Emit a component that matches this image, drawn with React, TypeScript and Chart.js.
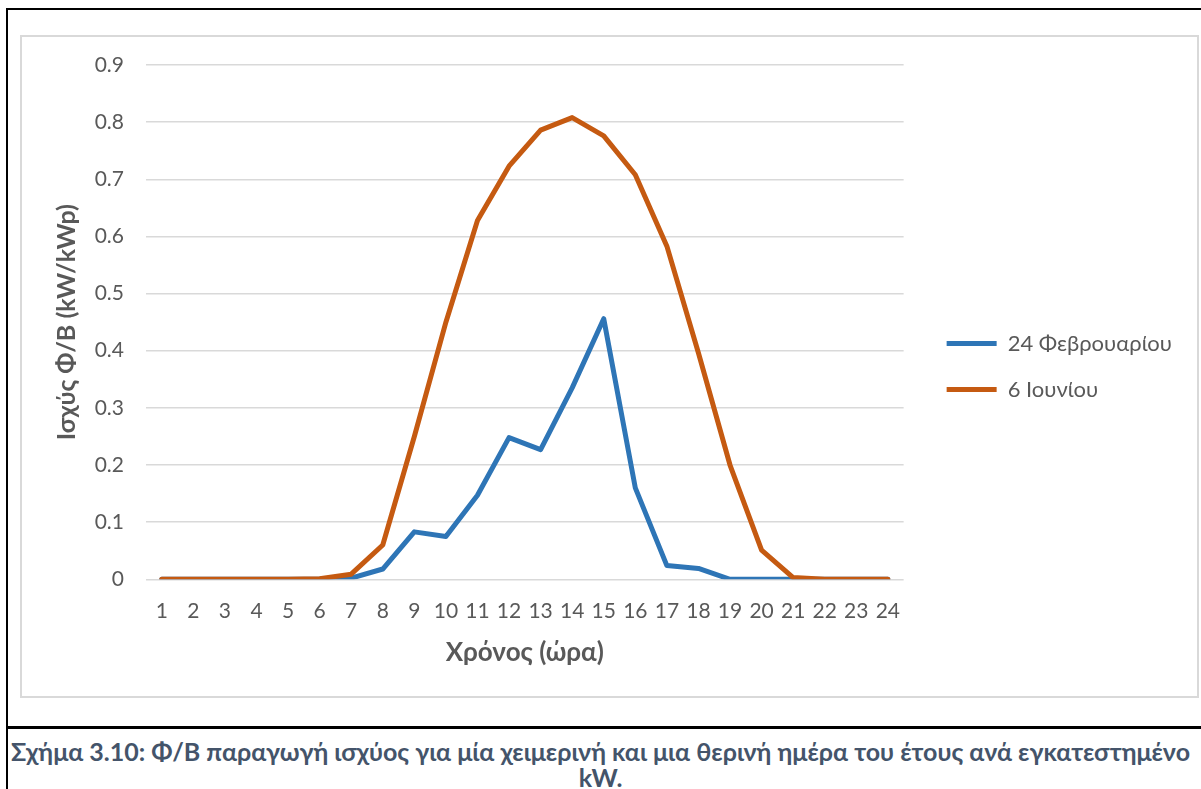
import React, { useEffect, useRef } from 'react';
import { Chart, registerables } from 'chart.js';

Chart.register(...registerables);

const hours = ['1', '2', '3', '4', '5', '6', '7', '8', '9', '10', '11', '12', '13', '14', '15', '16', '17', '18', '19', '20', '21', '22', '23', '24'];
const seriesNames = ['24 Φεβρουαρίου', '6 Ιουνίου'];
const feb24 = [0, 0, 0, 0, 0, 0, 0.002, 0.018, 0.083, 0.075, 0.147, 0.248, 0.227, 0.335, 0.456, 0.16, 0.024, 0.019, 0, 0, 0, 0, 0, 0];
const jun6 = [0, 0, 0, 0, 0, 0.001, 0.009, 0.06, 0.25, 0.45, 0.628, 0.723, 0.786, 0.808, 0.776, 0.708, 0.583, 0.396, 0.2, 0.051, 0.003, 0, 0, 0];
const yMin = 0;
const yMax = 0.9;
const yStep = 0.1;
const xTitle = 'Χρόνος (ώρα)';
const yTitle = 'Ισχύς Φ/Β (kW/kWp)';
const caption = 'Σχήμα 3.10: Φ/Β παραγωγή ισχύος για μία χειμερινή και μια θερινή ημέρα του έτους ανά εγκατεστημένο';
const captionEnd = 'kW.';

const TEXT = '#595959';
const FONT = 'Lato, "Open Sans", sans-serif';
const CANVAS_W = 1175;
const CANVAS_H = 659;
const LEGEND_SIZE = 22;
const LEGEND_PAD = 24;
const LEGEND_BOX = 50;
const SPACER = 19;
const PAD_RIGHT = 15;

export default function App() {
  const ref = useRef<HTMLCanvasElement>(null);

  useEffect(() => {
    if (!ref.current) return;
    const chart = new Chart(ref.current, {
      type: 'line',
      data: {
        labels: hours,
        datasets: [
          {
            label: seriesNames[0],
            data: feb24,
            borderColor: '#2E75B6',
            backgroundColor: '#2E75B6',
            borderWidth: 5,
            pointRadius: 0,
            borderCapStyle: 'round',
            borderJoinStyle: 'round',
            tension: 0,
            order: 1,
          },
          {
            label: seriesNames[1],
            data: jun6,
            borderColor: '#C55A11',
            backgroundColor: '#C55A11',
            borderWidth: 5,
            pointRadius: 0,
            borderCapStyle: 'round',
            borderJoinStyle: 'round',
            tension: 0,
            order: 0,
          },
        ],
      },
      options: {
        animation: false,
        responsive: false,
        devicePixelRatio: 1,
        layout: { padding: { top: 28, bottom: 28, left: 0, right: PAD_RIGHT } },
        font: { family: FONT },
        plugins: {
          legend: {
            position: 'right',
            maxWidth: 500,
            labels: {
              usePointStyle: true,
              pointStyle: 'line',
              pointStyleWidth: LEGEND_BOX,
              padding: LEGEND_PAD,
              color: TEXT,
              font: { family: FONT, size: LEGEND_SIZE },
              sort: (a: any, b: any) => a.datasetIndex - b.datasetIndex,
            },
          },
          tooltip: { enabled: false },
        },
        scales: {
          x: {
            offset: true,
            grid: { display: false, drawTicks: false },
            border: { display: false },
            ticks: {
              color: TEXT,
              font: { family: FONT, size: 21 },
              padding: 19.5,
              maxRotation: 0,
              autoSkip: false,
            },
            title: {
              display: true,
              text: xTitle,
              color: TEXT,
              font: { family: FONT, size: 26, weight: 'bold' },
              padding: { top: 0, bottom: 0 },
            },
            afterFit: (s: any) => {
              s.height = 88.7;
            },
          },
          y: {
            min: yMin,
            max: yMax,
            ticks: {
              stepSize: yStep,
              padding: 22,
              color: TEXT,
              font: { family: FONT, size: 21 },
              callback: (v: any) => String(Math.round(Number(v) * 10) / 10),
            },
            grid: { color: '#D9D9D9', lineWidth: 1.5, drawTicks: false },
            border: { display: false },
            title: {
              display: true,
              text: yTitle,
              color: TEXT,
              font: { family: FONT, size: 25, weight: 'bold' },
              padding: { top: 30, bottom: 0 },
            },
            afterFit: (s: any) => {
              s.width = 124;
              s.paddingTop = 0;
              s.paddingBottom = 0;
            },
          },
          y2: {
            type: 'linear',
            position: 'right',
            display: true,
            grid: { display: false },
            border: { display: false },
            ticks: { display: false },
            afterFit: (s: any) => {
              s.width = SPACER;
              s.paddingTop = 0;
              s.paddingBottom = 0;
            },
          },
        },
      } as any,
    });
    return () => chart.destroy();
  }, []);

  return (
    <div style={{ position: 'absolute', left: 0, top: 0, width: 1201, height: 789, background: '#fff', overflow: 'hidden' }}>
      <div style={{ position: 'absolute', left: 6, top: 8, width: 1195, height: 2, background: '#000' }} />
      <div style={{ position: 'absolute', left: 6, top: 8, width: 2, height: 781, background: '#000' }} />
      <div style={{ position: 'absolute', left: 6, top: 726, width: 1195, height: 3, background: '#000' }} />
      <div
        style={{
          position: 'absolute',
          left: 20,
          top: 35,
          width: 1179,
          height: 663,
          boxSizing: 'border-box',
          border: '2px solid #D9D9D9',
        }}
      />
      <canvas
        ref={ref}
        width={CANVAS_W}
        height={CANVAS_H}
        style={{ position: 'absolute', left: 22, top: 37, width: CANVAS_W, height: CANVAS_H }}
      />
      <div
        style={{
          position: 'absolute',
          left: 0,
          top: 738,
          width: 1201,
          textAlign: 'center',
          fontFamily: FONT,
          fontWeight: 'bold',
          fontSize: 25,
          lineHeight: '26px',
          color: '#44546A',
          whiteSpace: 'nowrap',
        }}
      >
        {caption}
        <br />
        {captionEnd}
      </div>
    </div>
  );
}
